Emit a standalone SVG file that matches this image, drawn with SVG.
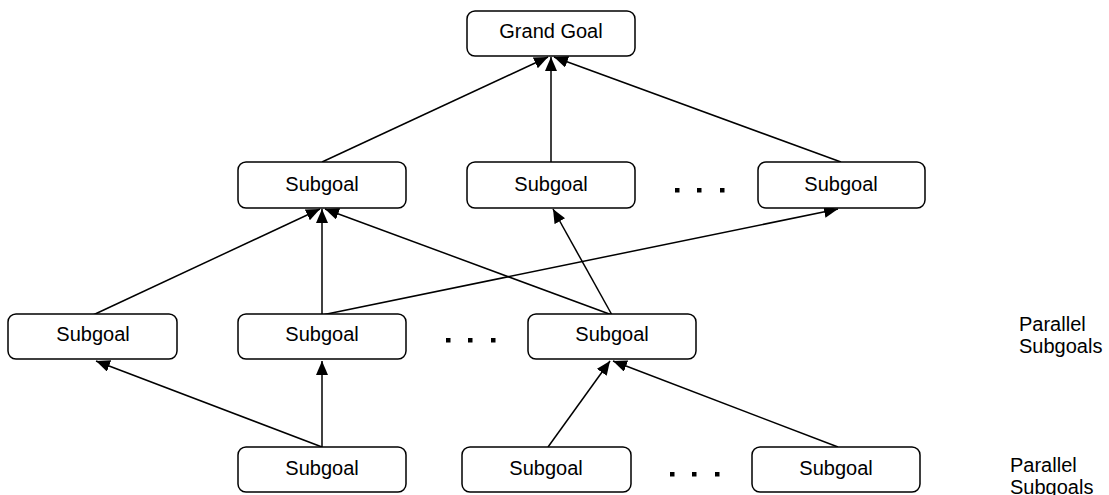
<svg xmlns="http://www.w3.org/2000/svg" width="1109" height="495" viewBox="0 0 1109 495">
<style>
.box{fill:#fff;stroke:#000;stroke-width:1.5}
.t{font-family:"Liberation Sans",Arial,sans-serif;font-size:20px;fill:#000}
.c{text-anchor:middle}
.e{stroke:#000;stroke-width:1.5;fill:none;marker-end:url(#ah)}
.dot{fill:#000}
</style>
<defs>
<marker id="ah" markerWidth="16" markerHeight="13" refX="14" refY="6" orient="auto" markerUnits="userSpaceOnUse">
<path d="M0,0 L14,6 L0,12 Z" fill="#000"/>
</marker>
</defs>
<g id="connectors">
<path class="e" d="M322,162 L548,57"/>
<path class="e" d="M551,162 L551,57"/>
<path class="e" d="M841,162 L554,57"/>
<path class="e" d="M93,315 L320,209"/>
<path class="e" d="M322,315 L322,209"/>
<path class="e" d="M612,315 L325,209"/>
<path class="e" d="M322,315 L838,209"/>
<path class="e" d="M612,315 L553,209"/>
<path class="e" d="M322,447 L96,361"/>
<path class="e" d="M322,447 L322,361"/>
<path class="e" d="M548,447 L610,361"/>
<path class="e" d="M838,447 L613,361"/>
</g>
<g id="grand-goal"><rect class="box" x="467" y="11" width="168" height="45" rx="8"/><text class="t c" x="551" y="38">Grand Goal</text></g>
<g id="sg-2-1"><rect class="box" x="238" y="162" width="168" height="46" rx="8"/><text class="t c" x="322" y="191">Subgoal</text></g>
<g id="sg-2-2"><rect class="box" x="467" y="162" width="168" height="46" rx="8"/><text class="t c" x="551" y="191">Subgoal</text></g>
<g id="dots-2"><rect class="dot" x="675" y="188" width="4.5" height="4.5"/><rect class="dot" x="697" y="188" width="4.5" height="4.5"/><rect class="dot" x="720" y="188" width="4.5" height="4.5"/></g>
<g id="sg-2-3"><rect class="box" x="758" y="162" width="167" height="46" rx="8"/><text class="t c" x="841" y="191">Subgoal</text></g>
<g id="sg-3-1"><rect class="box" x="8" y="314" width="169" height="45" rx="8"/><text class="t c" x="93" y="341">Subgoal</text></g>
<g id="sg-3-2"><rect class="box" x="238" y="314" width="168" height="45" rx="8"/><text class="t c" x="322" y="341">Subgoal</text></g>
<g id="dots-3"><rect class="dot" x="446" y="338" width="4.5" height="4.5"/><rect class="dot" x="468" y="338" width="4.5" height="4.5"/><rect class="dot" x="491" y="338" width="4.5" height="4.5"/></g>
<g id="sg-3-3"><rect class="box" x="528" y="314" width="168" height="45" rx="8"/><text class="t c" x="612" y="341">Subgoal</text></g>
<g id="label-3"><text class="t" x="1019" y="331">Parallel</text><text class="t" x="1019" y="353">Subgoals</text></g>
<g id="sg-4-1"><rect class="box" x="238" y="447" width="168" height="45" rx="8"/><text class="t c" x="322" y="475">Subgoal</text></g>
<g id="sg-4-2"><rect class="box" x="462" y="447" width="169" height="45" rx="8"/><text class="t c" x="546" y="475">Subgoal</text></g>
<g id="dots-4"><rect class="dot" x="670" y="472" width="4.5" height="4.5"/><rect class="dot" x="692" y="472" width="4.5" height="4.5"/><rect class="dot" x="715" y="472" width="4.5" height="4.5"/></g>
<g id="sg-4-3"><rect class="box" x="752" y="447" width="168" height="45" rx="8"/><text class="t c" x="836" y="475">Subgoal</text></g>
<g id="label-4"><text class="t" x="1010" y="472">Parallel</text><text class="t" x="1010" y="494">Subgoals</text></g>
</svg>
